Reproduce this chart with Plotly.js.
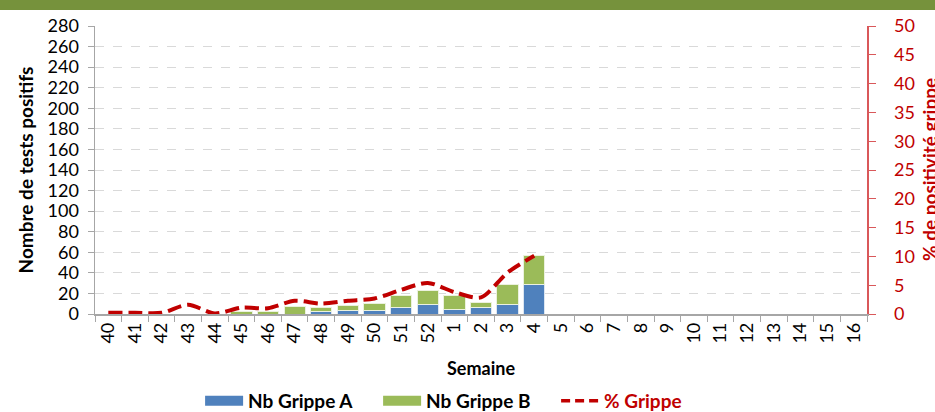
<!DOCTYPE html>
<html>
<head>
<meta charset="utf-8">
<script src="https://cdn.plot.ly/plotly-3.0.1.min.js"></script>
<style>html,body{margin:0;padding:0;background:#fff;}#chart{width:935px;height:412px;}</style>
</head>
<body>
<div id="chart"></div>
<script>
const weeks = ['40','41','42','43','44','45','46','47','48','49','50','51','52','1','2','3','4','5','6','7','8','9','10','11','12','13','14','15','16'];
const grippeA = [0,0,0,0,0,0,0,0,2,3,3,6,9,4,6,9,29,null,null,null,null,null,null,null,null,null,null,null,null];
const grippeB = [0,0,0,0,0,2,2,7,4,5,7,12,14,14,5,20,28,null,null,null,null,null,null,null,null,null,null,null,null];
const pctGrippe = [0.2,0.2,0.2,1.6,0.1,1.1,1.0,2.3,1.8,2.3,2.7,4.2,5.4,3.8,2.9,7.2,10.1,null,null,null,null,null,null,null,null,null,null,null,null];

const FONT = 'Lato, "Open Sans", sans-serif';
const RED = '#C00000';

const traces = [
  {type:'bar', x:weeks, y:grippeA, name:'Nb Grippe A', marker:{color:'#4F81BD', line:{color:'#DCE6F1', width:1}}, showlegend:false, hoverinfo:'skip'},
  {type:'bar', x:weeks, y:grippeB, name:'Nb Grippe B', marker:{color:'#9BBB59', line:{color:'#EBF1DE', width:1}}, showlegend:false, hoverinfo:'skip'},
  {type:'scatter', mode:'lines', x:weeks, y:pctGrippe, yaxis:'y2', name:'% Grippe', line:{color:RED, width:4, dash:'14px,6px', shape:'spline', smoothing:0.8}, connectgaps:false, showlegend:false, hoverinfo:'skip'},
  // legend entries
  {type:'scatter', mode:'lines', x:[null], y:[null], name:'<b>Nb Grippe A</b>', line:{color:'#4F81BD', width:12}},
  {type:'scatter', mode:'lines', x:[null], y:[null], name:'<b>Nb Grippe B</b>', line:{color:'#9BBB59', width:12}},
  {type:'scatter', mode:'lines', x:[null], y:[null], yaxis:'y2', name:'<b><span style="color:#C00000">% Grippe</span></b>', line:{color:RED, width:3.5, dash:'9px,5px'}}
];

const layout = {
  width:935, height:412,
  margin:{l:95, r:68, t:26, b:98, autoexpand:false},
  paper_bgcolor:'#fff', plot_bgcolor:'#fff',
  font:{family:FONT, size:18, color:'#000'},
  barmode:'stack', bargap:0.2,
  showlegend:true,
  legend:{orientation:'h', x:0.482, xanchor:'center', yref:'container', y:0.027, yanchor:'middle', itemwidth:38, entrywidth:125, entrywidthmode:'pixels', font:{family:FONT, size:19, color:'#000'}, traceorder:'normal', itemclick:false},
  xaxis:{type:'category', categoryorder:'array', categoryarray:weeks, tickangle:-90, tickson:'boundaries', ticks:'outside', ticklen:6, tickcolor:'#A6A6A6', showline:true, linecolor:'#A6A6A6', linewidth:1.5, showgrid:false, tickfont:{family:FONT, size:18}, title:{text:'<b>Semaine</b>', font:{family:FONT, size:18}, standoff:20}, fixedrange:true},
  yaxis:{range:[0,280], dtick:20, tick0:0, ticks:'outside', ticklen:6, tickcolor:'#A6A6A6', showline:true, linecolor:'#A6A6A6', linewidth:1.5, showgrid:true, gridcolor:'#D9D9D9', griddash:'dash', gridwidth:1, zeroline:false, ticklabelstandoff:5, tickfont:{family:FONT, size:18}, title:{text:'<b>Nombre de tests positifs</b>', font:{family:FONT, size:19}, standoff:9}, fixedrange:true},
  yaxis2:{overlaying:'y', side:'right', range:[0,50], dtick:5, tick0:0, ticks:'outside', ticklen:7, tickcolor:'#D9585A', showline:true, linecolor:'#D9585A', linewidth:1.5, showgrid:false, zeroline:false, ticklabelstandoff:15, tickfont:{family:FONT, size:18, color:RED}, fixedrange:true},
  annotations:[{text:'<b>% de positivité grippe</b>', xref:'paper', yref:'paper', x:1+62/772, y:0.5, xanchor:'center', yanchor:'middle', textangle:-90, showarrow:false, font:{family:FONT, size:19, color:RED}}],
  shapes:[{type:'rect', xref:'paper', yref:'paper', x0:-0.2, x1:1.2, y0:1+16/288, y1:1+30/288, fillcolor:'#76923C', line:{width:0}, layer:'above'}]
};

Plotly.newPlot('chart', traces, layout, {displayModeBar:false, staticPlot:true});
</script>
</body>
</html>
